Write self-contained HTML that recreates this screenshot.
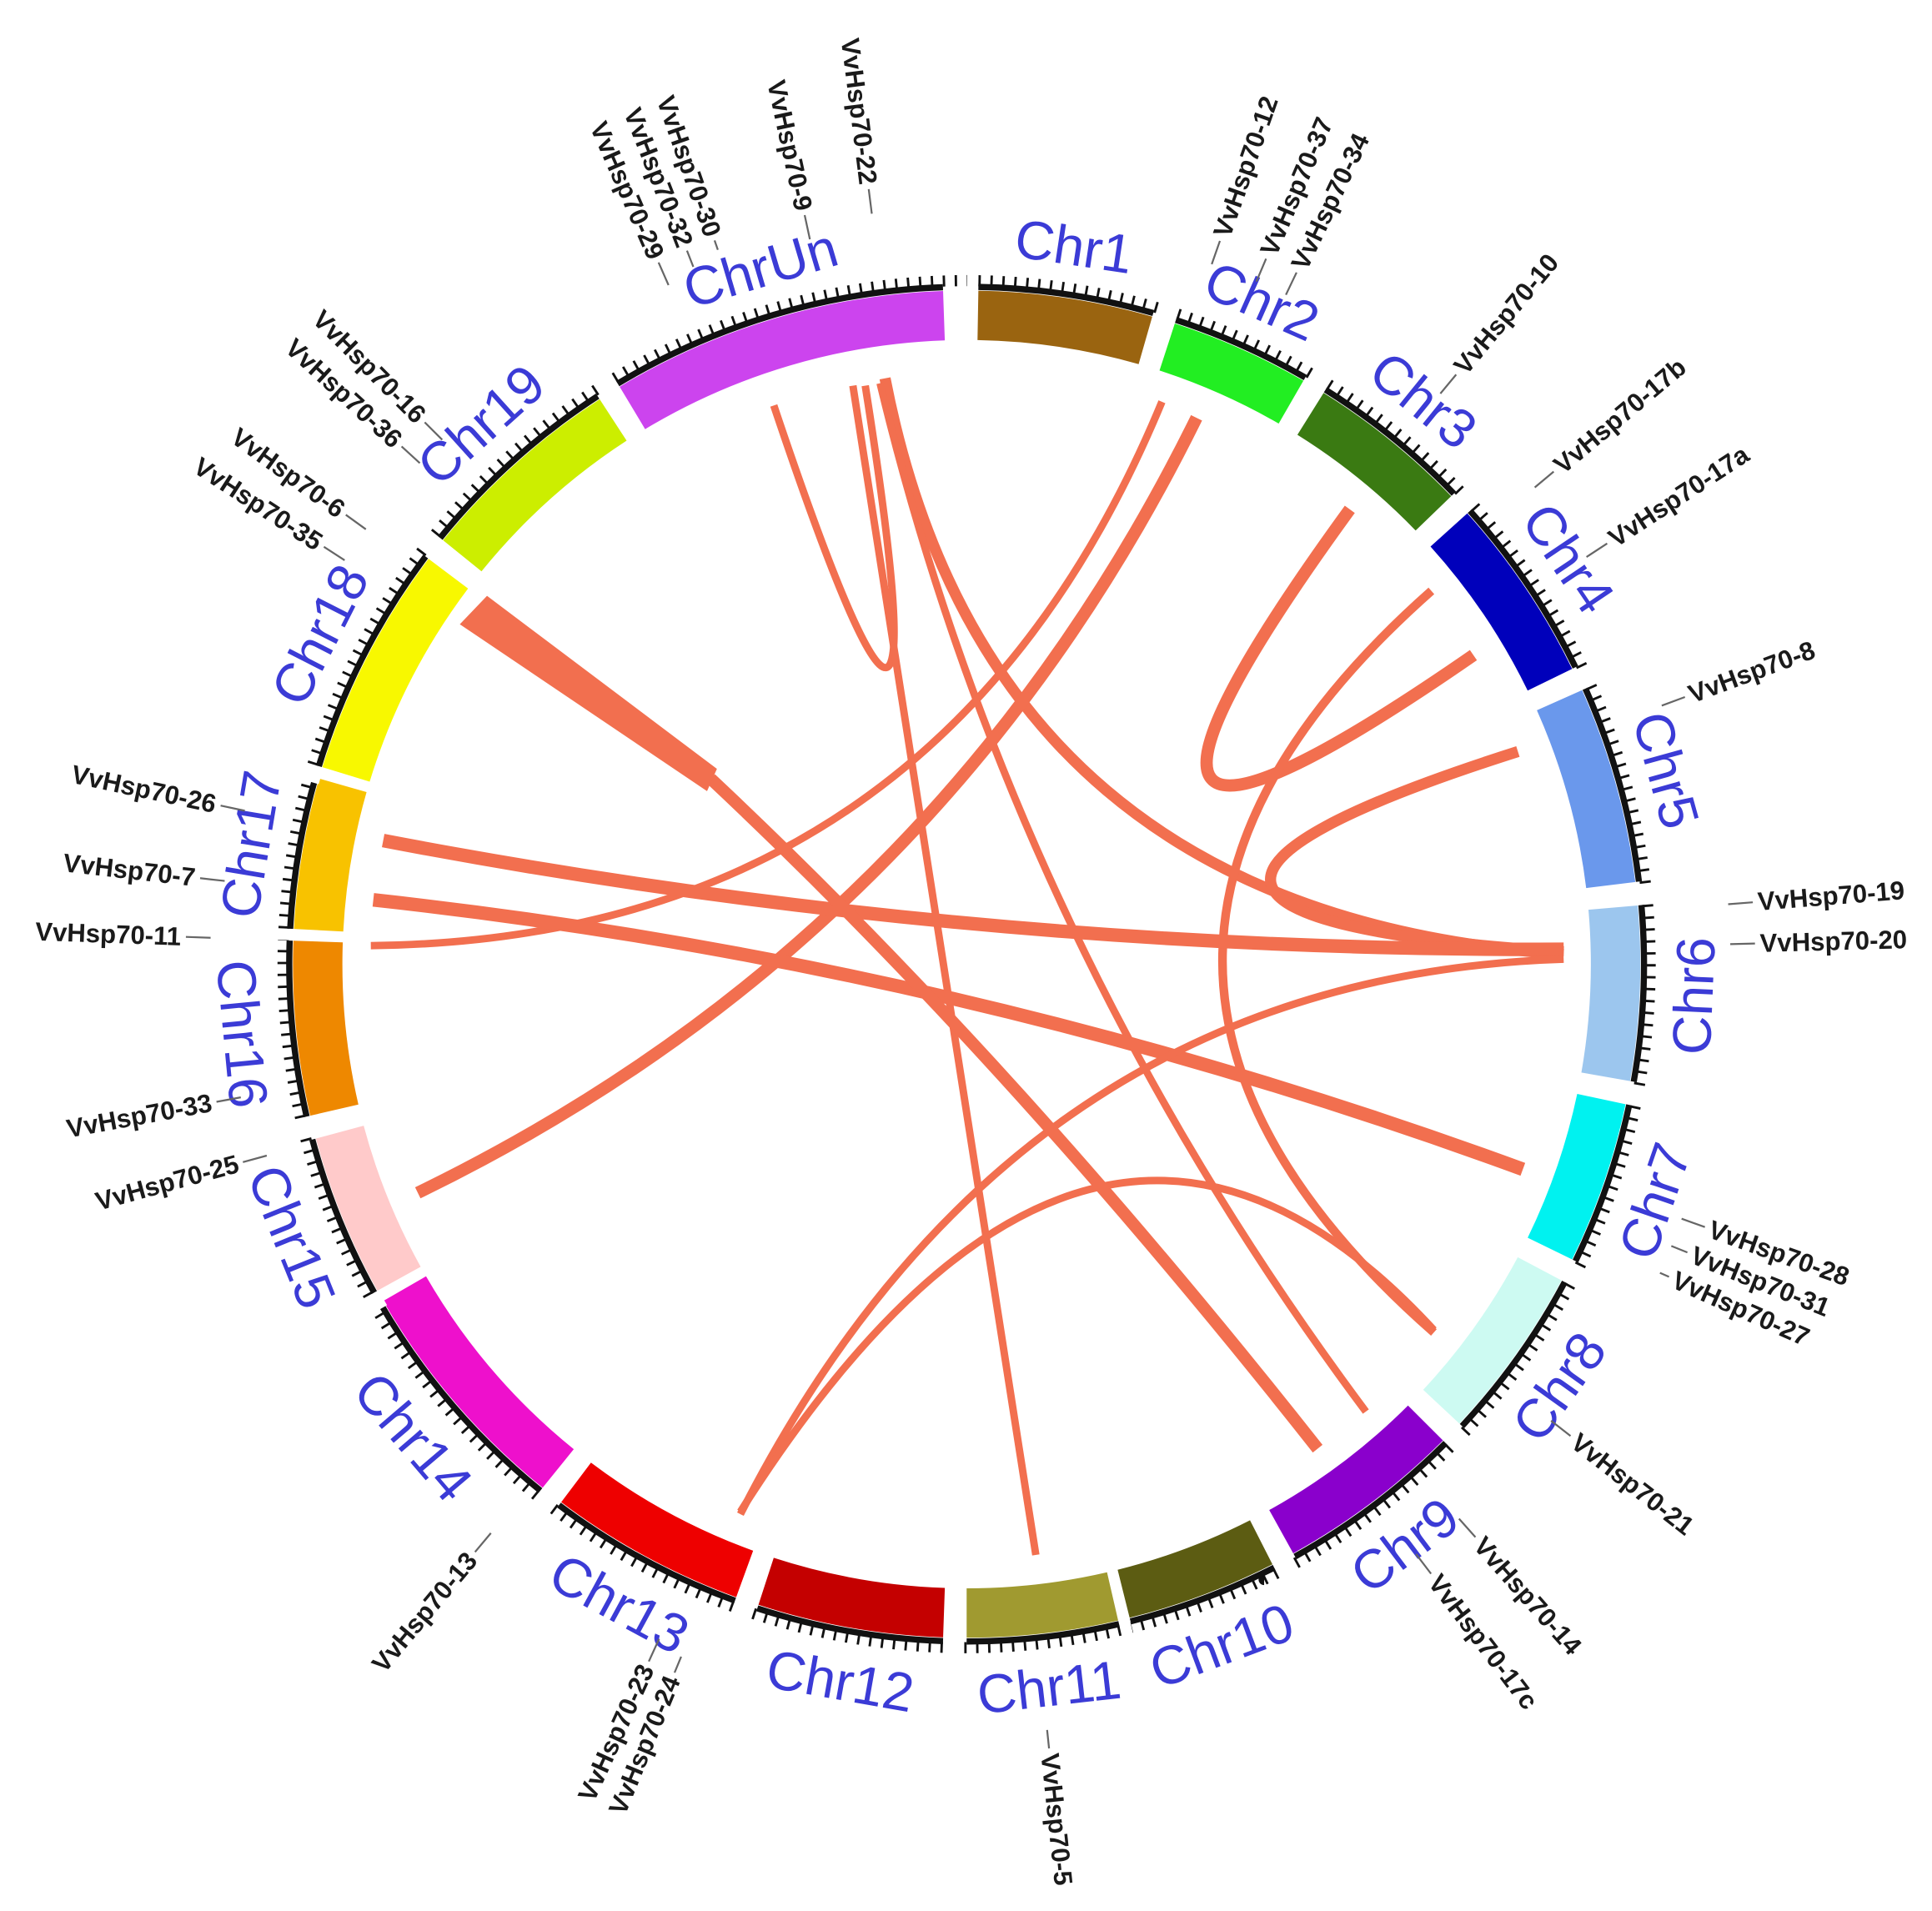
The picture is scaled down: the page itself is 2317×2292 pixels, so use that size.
<!DOCTYPE html>
<html><head><meta charset="utf-8"><style>
html,body{margin:0;padding:0;background:#fff;}
svg{display:block;}
.chr{font-family:"Liberation Sans",sans-serif;font-size:44px;fill:#3b3bd6;}
.g{font-family:"Liberation Sans",sans-serif;font-size:21px;font-weight:bold;fill:#1a1a1a;}
.ln{stroke:#666;stroke-width:1.5;}
.lk{fill:none;stroke:#f26f4f;stroke-linecap:butt;}
</style></head><body>
<svg width="2317" height="2292" viewBox="0 0 1563 1546" xmlns="http://www.w3.org/2000/svg">
<rect width="1563" height="1546" fill="#fff"/>
<circle cx="782" cy="780" r="553" fill="none" stroke="#111" stroke-width="9" pathLength="1440" stroke-dasharray="0.8 3.2"/>
<g fill="none">
<g stroke="#111" stroke-width="5">
<circle cx="782" cy="780" r="548" pathLength="360" stroke-dasharray="15 345" transform="rotate(-89 782 780)"/>
<circle cx="782" cy="780" r="548" pathLength="360" stroke-dasharray="12 348" transform="rotate(-72 782 780)"/>
<circle cx="782" cy="780" r="548" pathLength="360" stroke-dasharray="14 346" transform="rotate(-58 782 780)"/>
<circle cx="782" cy="780" r="548" pathLength="360" stroke-dasharray="16 344" transform="rotate(-42 782 780)"/>
<circle cx="782" cy="780" r="548" pathLength="360" stroke-dasharray="17 343" transform="rotate(-24 782 780)"/>
<circle cx="782" cy="780" r="548" pathLength="360" stroke-dasharray="15 345" transform="rotate(-5 782 780)"/>
<circle cx="782" cy="780" r="548" pathLength="360" stroke-dasharray="14 346" transform="rotate(12 782 780)"/>
<circle cx="782" cy="780" r="548" pathLength="360" stroke-dasharray="15 345" transform="rotate(28 782 780)"/>
<circle cx="782" cy="780" r="548" pathLength="360" stroke-dasharray="16 344" transform="rotate(45 782 780)"/>
<circle cx="782" cy="780" r="548" pathLength="360" stroke-dasharray="13 347" transform="rotate(63 782 780)"/>
<circle cx="782" cy="780" r="548" pathLength="360" stroke-dasharray="13 347" transform="rotate(77 782 780)"/>
<circle cx="782" cy="780" r="548" pathLength="360" stroke-dasharray="16 344" transform="rotate(92 782 780)"/>
<circle cx="782" cy="780" r="548" pathLength="360" stroke-dasharray="17 343" transform="rotate(110 782 780)"/>
<circle cx="782" cy="780" r="548" pathLength="360" stroke-dasharray="21 339" transform="rotate(129 782 780)"/>
<circle cx="782" cy="780" r="548" pathLength="360" stroke-dasharray="14 346" transform="rotate(151 782 780)"/>
<circle cx="782" cy="780" r="548" pathLength="360" stroke-dasharray="15 345" transform="rotate(167 782 780)"/>
<circle cx="782" cy="780" r="548" pathLength="360" stroke-dasharray="13 347" transform="rotate(183 782 780)"/>
<circle cx="782" cy="780" r="548" pathLength="360" stroke-dasharray="20 340" transform="rotate(197 782 780)"/>
<circle cx="782" cy="780" r="548" pathLength="360" stroke-dasharray="18 342" transform="rotate(219 782 780)"/>
<circle cx="782" cy="780" r="548" pathLength="360" stroke-dasharray="29 331" transform="rotate(239 782 780)"/>
</g>
<g stroke-width="40">
<circle cx="782" cy="780" r="525" pathLength="360" stroke-dasharray="15 345" stroke="#9a6410" transform="rotate(-89 782 780)"/>
<circle cx="782" cy="780" r="525" pathLength="360" stroke-dasharray="12 348" stroke="#22ee22" transform="rotate(-72 782 780)"/>
<circle cx="782" cy="780" r="525" pathLength="360" stroke-dasharray="14 346" stroke="#3a7a12" transform="rotate(-58 782 780)"/>
<circle cx="782" cy="780" r="525" pathLength="360" stroke-dasharray="16 344" stroke="#0000bb" transform="rotate(-42 782 780)"/>
<circle cx="782" cy="780" r="525" pathLength="360" stroke-dasharray="17 343" stroke="#6a98ec" transform="rotate(-24 782 780)"/>
<circle cx="782" cy="780" r="525" pathLength="360" stroke-dasharray="15 345" stroke="#9cc6ee" transform="rotate(-5 782 780)"/>
<circle cx="782" cy="780" r="525" pathLength="360" stroke-dasharray="14 346" stroke="#00f2f0" transform="rotate(12 782 780)"/>
<circle cx="782" cy="780" r="525" pathLength="360" stroke-dasharray="15 345" stroke="#cdfaf2" transform="rotate(28 782 780)"/>
<circle cx="782" cy="780" r="525" pathLength="360" stroke-dasharray="16 344" stroke="#8a00cc" transform="rotate(45 782 780)"/>
<circle cx="782" cy="780" r="525" pathLength="360" stroke-dasharray="13 347" stroke="#5c5c12" transform="rotate(63 782 780)"/>
<circle cx="782" cy="780" r="525" pathLength="360" stroke-dasharray="13 347" stroke="#a09a30" transform="rotate(77 782 780)"/>
<circle cx="782" cy="780" r="525" pathLength="360" stroke-dasharray="16 344" stroke="#c40000" transform="rotate(92 782 780)"/>
<circle cx="782" cy="780" r="525" pathLength="360" stroke-dasharray="17 343" stroke="#ee0000" transform="rotate(110 782 780)"/>
<circle cx="782" cy="780" r="525" pathLength="360" stroke-dasharray="21 339" stroke="#ee10cc" transform="rotate(129 782 780)"/>
<circle cx="782" cy="780" r="525" pathLength="360" stroke-dasharray="14 346" stroke="#ffcaca" transform="rotate(151 782 780)"/>
<circle cx="782" cy="780" r="525" pathLength="360" stroke-dasharray="15 345" stroke="#ee8800" transform="rotate(167 782 780)"/>
<circle cx="782" cy="780" r="525" pathLength="360" stroke-dasharray="13 347" stroke="#f8c200" transform="rotate(183 782 780)"/>
<circle cx="782" cy="780" r="525" pathLength="360" stroke-dasharray="20 340" stroke="#f8f800" transform="rotate(197 782 780)"/>
<circle cx="782" cy="780" r="525" pathLength="360" stroke-dasharray="18 342" stroke="#ccee00" transform="rotate(219 782 780)"/>
<circle cx="782" cy="780" r="525" pathLength="360" stroke-dasharray="29 331" stroke="#cc44ee" transform="rotate(239 782 780)"/>
</g>
</g>
<g stroke="#fff" stroke-width="9">
<g transform="rotate(0.5 782 780)"><line x1="782" y1="222" x2="782" y2="236"/></g>
<g transform="rotate(17 782 780)"><line x1="782" y1="222" x2="782" y2="236"/></g>
<g transform="rotate(31 782 780)"><line x1="782" y1="222" x2="782" y2="236"/></g>
<g transform="rotate(47 782 780)"><line x1="782" y1="222" x2="782" y2="236"/></g>
<g transform="rotate(65 782 780)"><line x1="782" y1="222" x2="782" y2="236"/></g>
<g transform="rotate(84 782 780)"><line x1="782" y1="222" x2="782" y2="236"/></g>
<g transform="rotate(101 782 780)"><line x1="782" y1="222" x2="782" y2="236"/></g>
<g transform="rotate(117 782 780)"><line x1="782" y1="222" x2="782" y2="236"/></g>
<g transform="rotate(134 782 780)"><line x1="782" y1="222" x2="782" y2="236"/></g>
<g transform="rotate(152 782 780)"><line x1="782" y1="222" x2="782" y2="236"/></g>
<g transform="rotate(166.5 782 780)"><line x1="782" y1="222" x2="782" y2="236"/></g>
<g transform="rotate(181 782 780)"><line x1="782" y1="222" x2="782" y2="236"/></g>
<g transform="rotate(199 782 780)"><line x1="782" y1="222" x2="782" y2="236"/></g>
<g transform="rotate(218 782 780)"><line x1="782" y1="222" x2="782" y2="236"/></g>
<g transform="rotate(240 782 780)"><line x1="782" y1="222" x2="782" y2="236"/></g>
<g transform="rotate(256 782 780)"><line x1="782" y1="222" x2="782" y2="236"/></g>
<g transform="rotate(272.5 782 780)"><line x1="782" y1="222" x2="782" y2="236"/></g>
<g transform="rotate(286 782 780)"><line x1="782" y1="222" x2="782" y2="236"/></g>
<g transform="rotate(308 782 780)"><line x1="782" y1="222" x2="782" y2="236"/></g>
<g transform="rotate(328 782 780)"><line x1="782" y1="222" x2="782" y2="236"/></g>
</g>

<g class="lk">
<path d="M626,328 Q771,760 700,312" stroke-width="6"/>
<path d="M690,312 Q760,760 838,1258" stroke-width="6"/>
<path d="M716,306 Q800,740 1265,772" stroke-width="9"/>
<path d="M712,310 Q820,760 1105,1142" stroke-width="6"/>
<path d="M940,325 Q760,760 300,765" stroke-width="6"/>
<path d="M968,338 Q760,760 338,965" stroke-width="10"/>
<path d="M1092,412 Q818,789 1192,530" stroke-width="10"/>
<path d="M1158,478 Q819,778 1160,1078" stroke-width="7"/>
<path d="M1228,608 Q810,741 1265,770" stroke-width="9"/>
<path d="M310,680 Q780,770 1265,768" stroke-width="11"/>
<path d="M302,728 Q780,780 1232,946" stroke-width="11"/>
<path d="M1265,776 Q820,790 599,1225" stroke-width="6"/>
<path d="M599,1223 Q883,775 1160,1076" stroke-width="6"/>
<path d="M575,630 Q820,860 1066,1172" stroke-width="10"/>
<polygon points="372,505 394,482 580,622 572,640" fill="#f26f4f" stroke="none"/>
</g>

<g class="chr" text-anchor="middle">
<text x="782" y="208" transform="rotate(8.5 782 780)">Chr1</text>
<text x="782" y="208" transform="rotate(24 782 780)">Chr2</text>
<text x="782" y="208" transform="rotate(39 782 780)">Chr3</text>
<text x="782" y="208" transform="rotate(56 782 780)">Chr4</text>
<text x="782" y="208" transform="rotate(74.5 782 780)">Chr5</text>
<text x="782" y="1384" transform="rotate(-87.5 782 780)">Chr6</text>
<text x="782" y="1384" transform="rotate(-71 782 780)">Chr7</text>
<text x="782" y="1384" transform="rotate(-54.5 782 780)">Chr8</text>
<text x="782" y="1384" transform="rotate(-37 782 780)">Chr9</text>
<text x="782" y="1384" transform="rotate(-20.5 782 780)">Chr10</text>
<text x="782" y="1384" transform="rotate(-6.5 782 780)">Chr11</text>
<text x="782" y="1384" transform="rotate(10 782 780)">Chr12</text>
<text x="782" y="1384" transform="rotate(28.5 782 780)">Chr13</text>
<text x="782" y="1384" transform="rotate(49.5 782 780)">Chr14</text>
<text x="782" y="1384" transform="rotate(68 782 780)">Chr15</text>
<text x="782" y="1384" transform="rotate(84.5 782 780)">Chr16</text>
<text x="782" y="208" transform="rotate(279.5 782 780)">Chr17</text>
<text x="782" y="208" transform="rotate(297 782 780)">Chr18</text>
<text x="782" y="208" transform="rotate(318 782 780)">Chr19</text>
<text x="782" y="208" transform="rotate(343.5 782 780)">ChrUn</text>
</g>

<g class="g">
<g transform="rotate(-70.7 782 780)"><line class="ln" x1="1382" y1="780" x2="1402" y2="780"/><text x="1406" y="787">VvHsp70-12</text></g>
<g transform="rotate(-67 782 780)"><line class="ln" x1="1382" y1="780" x2="1402" y2="780"/><text x="1406" y="787">VvHsp70-37</text></g>
<g transform="rotate(-64.5 782 780)"><line class="ln" x1="1382" y1="780" x2="1402" y2="780"/><text x="1406" y="787">VvHsp70-34</text></g>
<g transform="rotate(-50.3 782 780)"><line class="ln" x1="1382" y1="780" x2="1402" y2="780"/><text x="1406" y="787">VvHsp70-10</text></g>
<g transform="rotate(-40 782 780)"><line class="ln" x1="1382" y1="780" x2="1402" y2="780"/><text x="1406" y="787">VvHsp70-17b</text></g>
<g transform="rotate(-33.3 782 780)"><line class="ln" x1="1382" y1="780" x2="1402" y2="780"/><text x="1406" y="787">VvHsp70-17a</text></g>
<g transform="rotate(-20.4 782 780)"><line class="ln" x1="1382" y1="780" x2="1402" y2="780"/><text x="1406" y="787">VvHsp70-8</text></g>
<g transform="rotate(-4.5 782 780)"><line class="ln" x1="1400" y1="780" x2="1420" y2="780"/><text x="1424" y="787">VvHsp70-19</text></g>
<g transform="rotate(-1.5 782 780)"><line class="ln" x1="1400" y1="780" x2="1420" y2="780"/><text x="1424" y="787">VvHsp70-20</text></g>
<g transform="rotate(19.6 782 780)"><line class="ln" x1="1396" y1="780" x2="1416" y2="780"/><text x="1420" y="787">VvHsp70-28</text></g>
<g transform="rotate(21.8 782 780)"><line class="ln" x1="1396" y1="780" x2="1410" y2="780"/><text x="1414" y="787">VvHsp70-31</text></g>
<g transform="rotate(24 782 780)"><line class="ln" x1="1396" y1="780" x2="1404" y2="780"/><text x="1408" y="787">VvHsp70-27</text></g>
<g transform="rotate(38 782 780)"><line class="ln" x1="1382" y1="780" x2="1402" y2="780"/><text x="1406" y="787">VvHsp70-21</text></g>
<g transform="rotate(48.4 782 780)"><line class="ln" x1="1382" y1="780" x2="1402" y2="780"/><text x="1406" y="787">VvHsp70-14</text></g>
<g transform="rotate(52.7 782 780)"><line class="ln" x1="1382" y1="780" x2="1402" y2="780"/><text x="1406" y="787">VvHsp70-17c</text></g>
<g transform="rotate(84 782 780)"><line class="ln" x1="1405" y1="780" x2="1420" y2="780"/><text x="1424" y="787">VvHsp70-5</text></g>
</g>
<g class="g" text-anchor="end">
<g transform="rotate(294.5 782 780)"><line class="ln" x1="162" y1="780" x2="182" y2="780"/><text x="158" y="787">VvHsp70-23</text></g>
<g transform="rotate(292.4 782 780)"><line class="ln" x1="162" y1="780" x2="176" y2="780"/><text x="158" y="787">VvHsp70-24</text></g>
<g transform="rotate(309.9 782 780)"><line class="ln" x1="162" y1="780" x2="182" y2="780"/><text x="158" y="787">VvHsp70-13</text></g>
<g transform="rotate(344.7 782 780)"><line class="ln" x1="175" y1="780" x2="195" y2="780"/><text x="171" y="787">VvHsp70-25</text></g>
<g transform="rotate(349.6 782 780)"><line class="ln" x1="165" y1="780" x2="185" y2="780"/><text x="161" y="787">VvHsp70-33</text></g>
<g transform="rotate(2 782 780)"><line class="ln" x1="150" y1="780" x2="170" y2="780"/><text x="146" y="787">VvHsp70-11</text></g>
<g transform="rotate(6.4 782 780)"><line class="ln" x1="158" y1="780" x2="178" y2="780"/><text x="154" y="787">VvHsp70-7</text></g>
<g transform="rotate(12 782 780)"><line class="ln" x1="165" y1="780" x2="185" y2="780"/><text x="161" y="787">VvHsp70-26</text></g>
<g transform="rotate(33 782 780)"><line class="ln" x1="162" y1="780" x2="182" y2="780"/><text x="158" y="787">VvHsp70-35</text></g>
<g transform="rotate(35.9 782 780)"><line class="ln" x1="162" y1="780" x2="182" y2="780"/><text x="158" y="787">VvHsp70-6</text></g>
<g transform="rotate(42.5 782 780)"><line class="ln" x1="162" y1="780" x2="182" y2="780"/><text x="158" y="787">VvHsp70-36</text></g>
<g transform="rotate(45 782 780)"><line class="ln" x1="162" y1="780" x2="182" y2="780"/><text x="158" y="787">VvHsp70-16</text></g>
<g transform="rotate(66.3 782 780)"><line class="ln" x1="162" y1="780" x2="182" y2="780"/><text x="158" y="787">VvHsp70-29</text></g>
<g transform="rotate(68.6 782 780)"><line class="ln" x1="162" y1="780" x2="176" y2="780"/><text x="158" y="787">VvHsp70-32</text></g>
<g transform="rotate(70.8 782 780)"><line class="ln" x1="162" y1="780" x2="170" y2="780"/><text x="158" y="787">VvHsp70-30</text></g>
<g transform="rotate(77.8 782 780)"><line class="ln" x1="162" y1="780" x2="182" y2="780"/><text x="158" y="787">VvHsp70-9</text></g>
<g transform="rotate(82.8 782 780)"><line class="ln" x1="150" y1="780" x2="170" y2="780"/><text x="146" y="787">VvHsp70-22</text></g>
</g>
</svg>
</body></html>
